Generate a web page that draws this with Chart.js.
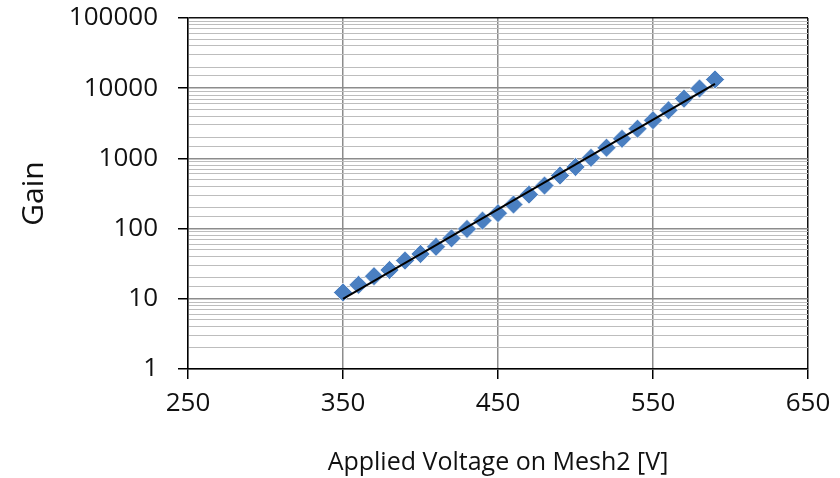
<!DOCTYPE html>
<html>
<head>
<meta charset="utf-8">
<script src="https://cdn.jsdelivr.net/npm/chart.js@4"></script>
<style>
	html, body { margin: 0; padding: 0; background: #fff; }
	#wrap { width: 840px; height: 478px; }
</style>
</head>
<body>
<div id="wrap"><canvas id="gainChart"></canvas></div>
<script>
const voltages = [350, 360, 370, 380, 390, 400, 410, 420, 430, 440, 450, 460, 470,
	480, 490, 500, 510, 520, 530, 540, 550, 560, 570, 580, 590];
const gains = [12.3, 15.8, 21, 25.7, 35, 43.5, 55, 72.6, 99, 130, 166, 220, 305,
	410, 570, 755, 1020, 1420, 1900, 2650, 3500, 4850, 7100, 9900, 13300];

// exponential trend line ends
const trendVoltages = [350, 590];
const trendGains = [10, 11500];

const xTicks = [250, 350, 450, 550, 650];
const yMajor = [1, 10, 100, 1000, 10000, 100000];

const font = "'Open Sans', 'Liberation Sans', sans-serif";

function isMajor(v) {
	return yMajor.some(m => Math.abs(v - m) < 1e-6);
}

const ctx = document.getElementById("gainChart");
new Chart(ctx, {
	type: "scatter",
	data: {
		datasets: [
			{
				type: "line",
				label: "Trend",
				data: trendVoltages.map((v, i) => ({ x: v, y: trendGains[i] })),
				borderColor: "#000",
				borderWidth: 2,
				pointRadius: 0,
				fill: false,
				order: 0
			},
			{
				label: "Gain",
				data: voltages.map((v, i) => ({ x: v, y: gains[i] })),
				backgroundColor: "#4a7fc1",
				borderColor: "rgba(255,255,255,0.7)",
				borderWidth: 1,
				pointStyle: "rectRot",
				pointRadius: 9.5,
				order: 1
			}
		]
	},
	options: {
		responsive: true,
		maintainAspectRatio: false,
		animation: false,
		layout: { padding: { top: 18, right: 32, left: 0, bottom: 0 } },
		plugins: { legend: { display: false }, tooltip: { enabled: false } },
		scales: {
			x: {
				type: "linear",
				min: 250,
				max: 650,
				afterBuildTicks: s => { s.ticks = xTicks.map(v => ({ value: v })); },
				afterFit: s => { s.height = 109; },
				border: { color: "#000", width: 1.5 },
				grid: {
					color: c => (c.tick && c.tick.value === 650 ? "#111" : "#8c8c8c"),
					lineWidth: 1.5,
					tickLength: 10,
					tickColor: "#000"
				},
				ticks: { color: "#111", padding: 9, font: { family: font, size: 26 } },
				title: {
					display: true,
					text: "Applied Voltage on Mesh2 [V]",
					color: "#111",
					padding: { top: 12, bottom: 0 },
					font: { family: font, size: 25 }
				}
			},
			y: {
				type: "logarithmic",
				min: 1,
				max: 100000,
				afterFit: s => {
					s.width = 188;
					s.paddingTop = 0;
					s.paddingBottom = 0;
				},
				border: { color: "#000", width: 1.5 },
				grid: {
					color: c => {
						if (!c.tick) return "#bdbdbd";
						if (c.tick.value === 100000) return "#111";
						return isMajor(c.tick.value) ? "#8c8c8c" : "#bdbdbd";
					},
					lineWidth: c => (c.tick && isMajor(c.tick.value) ? 1.5 : 1),
					tickLength: 10,
					tickColor: c => (c.tick && isMajor(c.tick.value) ? "#000" : "rgba(0,0,0,0)")
				},
				ticks: {
					autoSkip: false,
					color: "#111",
					padding: 20,
					font: { family: font, size: 26 },
					callback: v => (isMajor(v) ? String(v) : "")
				},
				title: {
					display: true,
					text: "Gain",
					color: "#111",
					padding: { top: 16, bottom: 0 },
					font: { family: font, size: 30 }
				}
			}
		}
	}
});
</script>
</body>
</html>
